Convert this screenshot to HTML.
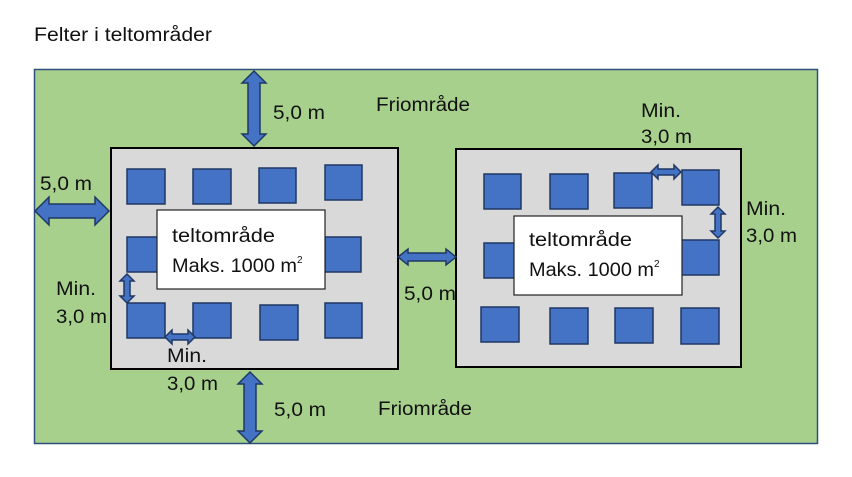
<!DOCTYPE html>
<html><head><meta charset="utf-8"><style>
html,body{margin:0;padding:0;background:#fff;}
svg{display:block;font-family:"Liberation Sans",sans-serif;}
</style></head><body>
<svg width="852" height="477" viewBox="0 0 852 477" xmlns="http://www.w3.org/2000/svg">
<text x="34" y="41" font-size="19" fill="#111" textLength="178" lengthAdjust="spacingAndGlyphs">Felter i teltområder</text>
<rect x="34.5" y="69.5" width="783" height="374" fill="#a8d08d" stroke="#2f4f7f" stroke-width="1.5"/>
<rect x="111" y="148" width="287" height="221" fill="#d9d9d9" stroke="#000" stroke-width="2"/>
<rect x="456" y="149" width="285" height="218" fill="#d9d9d9" stroke="#000" stroke-width="2"/>
<g fill="#4472c4" stroke="#1f3864" stroke-width="1.5">
<rect x="127" y="169" width="38" height="35"/><rect x="193" y="169" width="38" height="35"/>
<rect x="259" y="168" width="37" height="35"/><rect x="325" y="165" width="37" height="35"/>
<rect x="127" y="237" width="38" height="35"/><rect x="325" y="237" width="36" height="35"/>
<rect x="127" y="303" width="38" height="35"/><rect x="193" y="303" width="38" height="35"/>
<rect x="260" y="305" width="38" height="35"/><rect x="325" y="303" width="37" height="35"/>
<rect x="484" y="174" width="37" height="35"/><rect x="550" y="174" width="38" height="35"/>
<rect x="614" y="173" width="38" height="35"/><rect x="682" y="170" width="37" height="35"/>
<rect x="484" y="243" width="37" height="35"/><rect x="681" y="240" width="38" height="35"/>
<rect x="481" y="307" width="38" height="35"/><rect x="550" y="308" width="38" height="36"/>
<rect x="615" y="308" width="38" height="35"/><rect x="681" y="308" width="38" height="36"/>
</g>
<rect x="157" y="210" width="168" height="79" fill="#fff" stroke="#222" stroke-width="1.2"/>
<rect x="514" y="216" width="168" height="79" fill="#fff" stroke="#222" stroke-width="1.2"/>
<g font-size="19" fill="#111" lengthAdjust="spacingAndGlyphs">
<text x="172" y="242" textLength="103" lengthAdjust="spacingAndGlyphs">teltområde</text>
<text x="172" y="272"><tspan textLength="125" lengthAdjust="spacingAndGlyphs">Maks. 1000 m</tspan><tspan font-size="10" dy="-9">2</tspan></text>
<text x="529" y="246" textLength="103" lengthAdjust="spacingAndGlyphs">teltområde</text>
<text x="529" y="276"><tspan textLength="125" lengthAdjust="spacingAndGlyphs">Maks. 1000 m</tspan><tspan font-size="10" dy="-9">2</tspan></text>
<text x="273" y="119" textLength="52" lengthAdjust="spacingAndGlyphs">5,0 m</text>
<text x="376" y="111" textLength="94" lengthAdjust="spacingAndGlyphs">Friområde</text>
<text x="40" y="190" textLength="52" lengthAdjust="spacingAndGlyphs">5,0 m</text>
<text x="56" y="295" textLength="40" lengthAdjust="spacingAndGlyphs">Min.</text><text x="56" y="323" textLength="51" lengthAdjust="spacingAndGlyphs">3,0 m</text>
<text x="167" y="362" textLength="40" lengthAdjust="spacingAndGlyphs">Min.</text><text x="167" y="390" textLength="51" lengthAdjust="spacingAndGlyphs">3,0 m</text>
<text x="274" y="416" textLength="52" lengthAdjust="spacingAndGlyphs">5,0 m</text>
<text x="378" y="415" textLength="94" lengthAdjust="spacingAndGlyphs">Friområde</text>
<text x="404" y="300" textLength="52" lengthAdjust="spacingAndGlyphs">5,0 m</text>
<text x="641" y="117" textLength="40" lengthAdjust="spacingAndGlyphs">Min.</text><text x="641" y="143" textLength="51" lengthAdjust="spacingAndGlyphs">3,0 m</text>
<text x="746" y="215" textLength="40" lengthAdjust="spacingAndGlyphs">Min.</text><text x="746" y="242" textLength="51" lengthAdjust="spacingAndGlyphs">3,0 m</text>
</g>
<g fill="#4472c4" stroke="#1f3864" stroke-width="1.5" stroke-linejoin="miter">
<polygon points="254,71 266,83 260,83 260,134 266,134 254,146 242,134 248,134 248,83 242,83"/>
<polygon points="250,372 262,384 256,384 256,431 262,431 250,443 238,431 244,431 244,384 238,384"/>
<polygon points="35,211 49,197 49,204 95,204 95,197 109,211 95,225 95,218 49,218 49,225"/>
<polygon points="398,257 408,249 408,253 446,253 446,249 456,257 446,265 446,261 408,261 408,265"/>
<polygon points="127,274 134,281 130,281 130,296 134,296 127,303 120,296 124,296 124,281 120,281"/>
<polygon points="165,337 172,330 172,334 188,334 188,330 195,337 188,344 188,340 172,340 172,344"/>
<polygon points="651,172 658,165 658,169 674,169 674,165 681,172 674,179 674,175 658,175 658,179"/>
<polygon points="718,207 725,214 721,214 721,231 725,231 718,238 711,231 715,231 715,214 711,214"/>
</g>
</svg>
</body></html>
